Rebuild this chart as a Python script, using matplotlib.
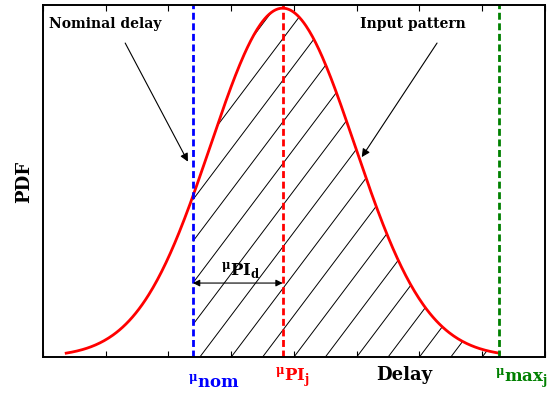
import numpy as np
import matplotlib
matplotlib.use('Agg')
import matplotlib.pyplot as plt
from matplotlib.collections import LineCollection

plt.rcParams['font.family'] = 'DejaVu Serif'
plt.rcParams['font.weight'] = 'bold'
plt.rcParams['mathtext.fontset'] = 'custom'
plt.rcParams['mathtext.rm'] = 'DejaVu Serif:bold'
plt.rcParams['mathtext.bf'] = 'DejaVu Serif:bold'
plt.rcParams['mathtext.it'] = 'DejaVu Serif:bold'

# values (delay axis units = tick spacing)
mu_nom = 2.39      # nominal delay
mu_pi = 3.82       # mean of the input pattern
sigma = 1.15       # spread of the input pattern
mu_max = 7.27      # max delay
x_ticks = [0, 1, 2, 3, 4, 5, 6, 7, 8]

# input pattern PDF (normalised to peak 1), drawn over mean +- 3 sigma
x = np.linspace(mu_pi - 3 * sigma, mu_max, 400)
pdf = np.exp(-0.5 * ((x - mu_pi) / sigma) ** 2)

fig = plt.figure(figsize=(5.59, 4.01), dpi=100)
ax = fig.add_axes([0.0769, 0.1097, 0.898, 0.8778])
ax.set_xlim(0, 8)
ax.set_ylim(0, 1.009)

# hatched region between nominal and max delay
mask = x >= mu_nom
poly = ax.fill_between(x[mask], 0, pdf[mask], facecolor='none', edgecolor='none')

# hatch lines (~53 deg in pixels, half a tick apart)
bb = ax.get_position()
px_x = bb.width * fig.get_figwidth() * fig.dpi / 8
px_y = bb.height * fig.get_figheight() * fig.dpi / 1.009
slope = np.tan(np.radians(53)) * px_x / px_y
segs = []
for x0 in np.arange(-2, 8.01, 0.5):
    segs.append([(x0, 0), (x0 + 1.1 / slope, 1.1)])
lc = LineCollection(segs, colors='black', linewidths=0.7)
ax.add_collection(lc)
lc.set_clip_path(poly.get_paths()[0], ax.transData)

ax.plot(x, pdf, color='red', lw=2)
ax.axvline(mu_nom, color='blue', lw=2, ls=(0, (2.5, 1.3)))
ax.axvline(mu_pi, color='red', lw=2, ls=(0, (2.5, 1.3)))
ax.axvline(mu_max, color='green', lw=2, ls=(0, (2.5, 1.3)))

# annotations
arrow = dict(arrowstyle='-|>', color='black', lw=0.8,
             shrinkA=0, shrinkB=0, mutation_scale=12)
ax.text(0.1, 0.955, 'Nominal delay', fontsize=10, fontweight='bold',
        va='center', ha='left')
ax.annotate('', xy=(2.31, 0.56), xytext=(1.31, 0.90), arrowprops=arrow)
ax.text(5.05, 0.955, 'Input pattern', fontsize=10, fontweight='bold',
        va='center', ha='left')
ax.annotate('', xy=(5.08, 0.573), xytext=(6.28, 0.90), arrowprops=arrow)
ax.annotate('', xy=(mu_nom, 0.212), xytext=(mu_pi, 0.212),
            arrowprops=dict(arrowstyle='<|-|>', color='black', lw=0.8,
                            shrinkA=0, shrinkB=0, mutation_scale=10))
ax.text((mu_nom + mu_pi) / 2 + 0.05, 0.232, r'${}^{\mu}\mathbf{PI}_{\mathbf{d}}$',
        fontsize=12, ha='center', va='baseline', color='black')

# labels below the axis
tr = ax.get_xaxis_transform()
ax.text(mu_nom - 0.08, -0.045, r'${}^{\mu}\mathbf{nom}$', transform=tr,
        color='blue', fontsize=12, ha='left', va='top')
ax.text(mu_pi - 0.12, -0.023, r'${}^{\mu}\mathbf{PI}_{\mathbf{j}}$', transform=tr,
        color='red', fontsize=12, ha='left', va='top')
ax.text(mu_max - 0.07, -0.026, r'${}^{\mu}\mathbf{max}_{\mathbf{j}}$', transform=tr,
        color='green', fontsize=12, ha='left', va='top')
ax.text(5.75, -0.051, 'Delay', transform=tr, fontsize=13, fontweight='bold',
        ha='center', va='center')
ax.text(-0.038, 0.497, 'PDF', transform=ax.transAxes, fontsize=13,
        fontweight='bold', rotation=90, ha='center', va='center')

ax.set_xticks(x_ticks)
ax.set_xticklabels([])
ax.set_yticks([])
ax.tick_params(axis='x', direction='in', top=True, length=4, width=0.8)
for s in ax.spines.values():
    s.set_linewidth(1.4)

fig.savefig('out.png', dpi=100)
